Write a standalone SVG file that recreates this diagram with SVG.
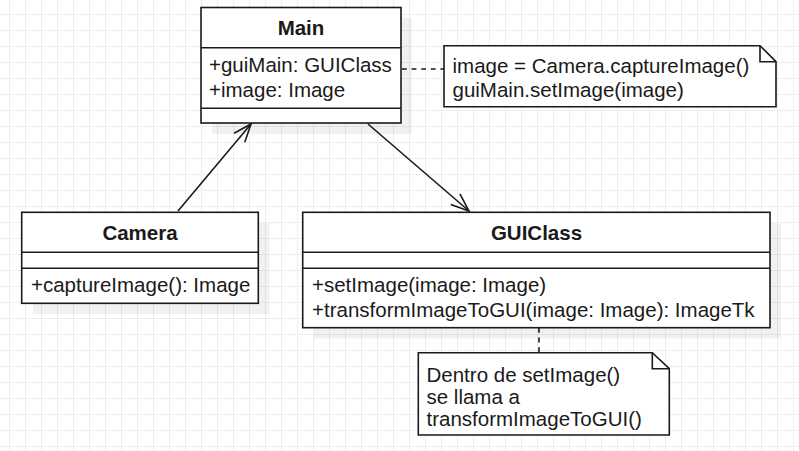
<svg xmlns="http://www.w3.org/2000/svg" width="799" height="451" viewBox="0 0 799 451">
  <style>
    .box { fill: #ffffff; stroke: #1a1a1a; stroke-width: 1.6; }
    .shadow { fill: #000000; fill-opacity: 0.055; }
    .div { stroke: #1a1a1a; stroke-width: 1.6; fill: none; }
    .t { font-family: "Liberation Sans", Arial, sans-serif; font-size: 20.5px; fill: #1a1a1a; }
    .title { font-weight: bold; text-anchor: middle; }
    .edge { stroke: #1a1a1a; stroke-width: 1.6; fill: none; }
    .dash { stroke: #1a1a1a; stroke-width: 1.6; fill: none; stroke-dasharray: 4.8 4.8; }
  </style>
  <defs>
    <pattern id="grid" x="9" y="14" width="16" height="16" patternUnits="userSpaceOnUse">
      <rect x="0" y="0" width="1" height="16" fill="#eeeeee"/>
      <rect x="0" y="0" width="16" height="1" fill="#eeeeee"/>
    </pattern>
    <marker id="open" markerWidth="24" markerHeight="20" refX="20" refY="10" orient="auto" markerUnits="userSpaceOnUse" viewBox="0 0 24 20">
      <path d="M 2 3 L 20 10 L 2 17" fill="none" stroke="#1a1a1a" stroke-width="1.6"/>
    </marker>
  </defs>
  <rect width="799" height="451" fill="#ffffff"/>
  <rect width="799" height="451" fill="url(#grid)"/>

  <g id="connectors">
    <line class="edge" x1="178" y1="211" x2="251" y2="124" marker-end="url(#open)"/>
    <line class="edge" x1="368" y1="124" x2="469" y2="211" marker-end="url(#open)"/>
    <line class="dash" x1="402" y1="69" x2="444" y2="69"/>
    <line class="dash" x1="539" y1="328" x2="539" y2="353"/>
  </g>

  <g id="main">
    <rect class="shadow" x="212" y="18" width="200" height="116"/>
    <rect class="box" x="201" y="7.5" width="200" height="115.5"/>
    <line class="div" x1="201" y1="47.7" x2="401" y2="47.7"/>
    <line class="div" x1="201" y1="108.3" x2="401" y2="108.3"/>
    <text class="t title" x="301" y="35">Main</text>
    <text class="t" x="209" y="72">+guiMain: GUIClass</text>
    <text class="t" x="209" y="97">+image: Image</text>
  </g>

  <g id="camera">
    <rect class="shadow" x="33" y="223" width="236.5" height="91"/>
    <rect class="box" x="21.7" y="212.3" width="236.6" height="91"/>
    <line class="div" x1="21.7" y1="252.3" x2="258.3" y2="252.3"/>
    <line class="div" x1="21.7" y1="268.3" x2="258.3" y2="268.3"/>
    <text class="t title" x="140" y="239.5">Camera</text>
    <text class="t" x="31" y="291.5">+captureImage(): Image</text>
  </g>

  <g id="guiclass">
    <rect class="shadow" x="314" y="223" width="467" height="115.5"/>
    <rect class="box" x="302.7" y="212.3" width="467.3" height="115.4"/>
    <line class="div" x1="302.7" y1="252.3" x2="770" y2="252.3"/>
    <line class="div" x1="302.7" y1="268.3" x2="770" y2="268.3"/>
    <text class="t title" x="536.5" y="239.5">GUIClass</text>
    <text class="t" x="312" y="291.5">+setImage(image: Image)</text>
    <text class="t" x="312" y="316.5">+transformImageToGUI(image: Image): ImageTk</text>
  </g>

  <g id="note1">
    <path class="box" d="M444,45.7 H760 L776,61.7 V106.7 H444 Z"/>
    <path class="div" d="M760,45.7 V61.7 H776"/>
    <text class="t" x="452.5" y="73.3">image = Camera.captureImage()</text>
    <text class="t" x="452.5" y="97.3">guiMain.setImage(image)</text>
  </g>

  <g id="note2">
    <path class="box" d="M418.3,352.7 H652.3 L669.3,368.7 V435 H418.3 Z"/>
    <path class="div" d="M652.3,352.7 V368.7 H669.3"/>
    <text class="t" x="426.5" y="382">Dentro de setImage()</text>
    <text class="t" x="426.5" y="404">se llama a</text>
    <text class="t" x="426.5" y="426">transformImageToGUI()</text>
  </g>
</svg>
